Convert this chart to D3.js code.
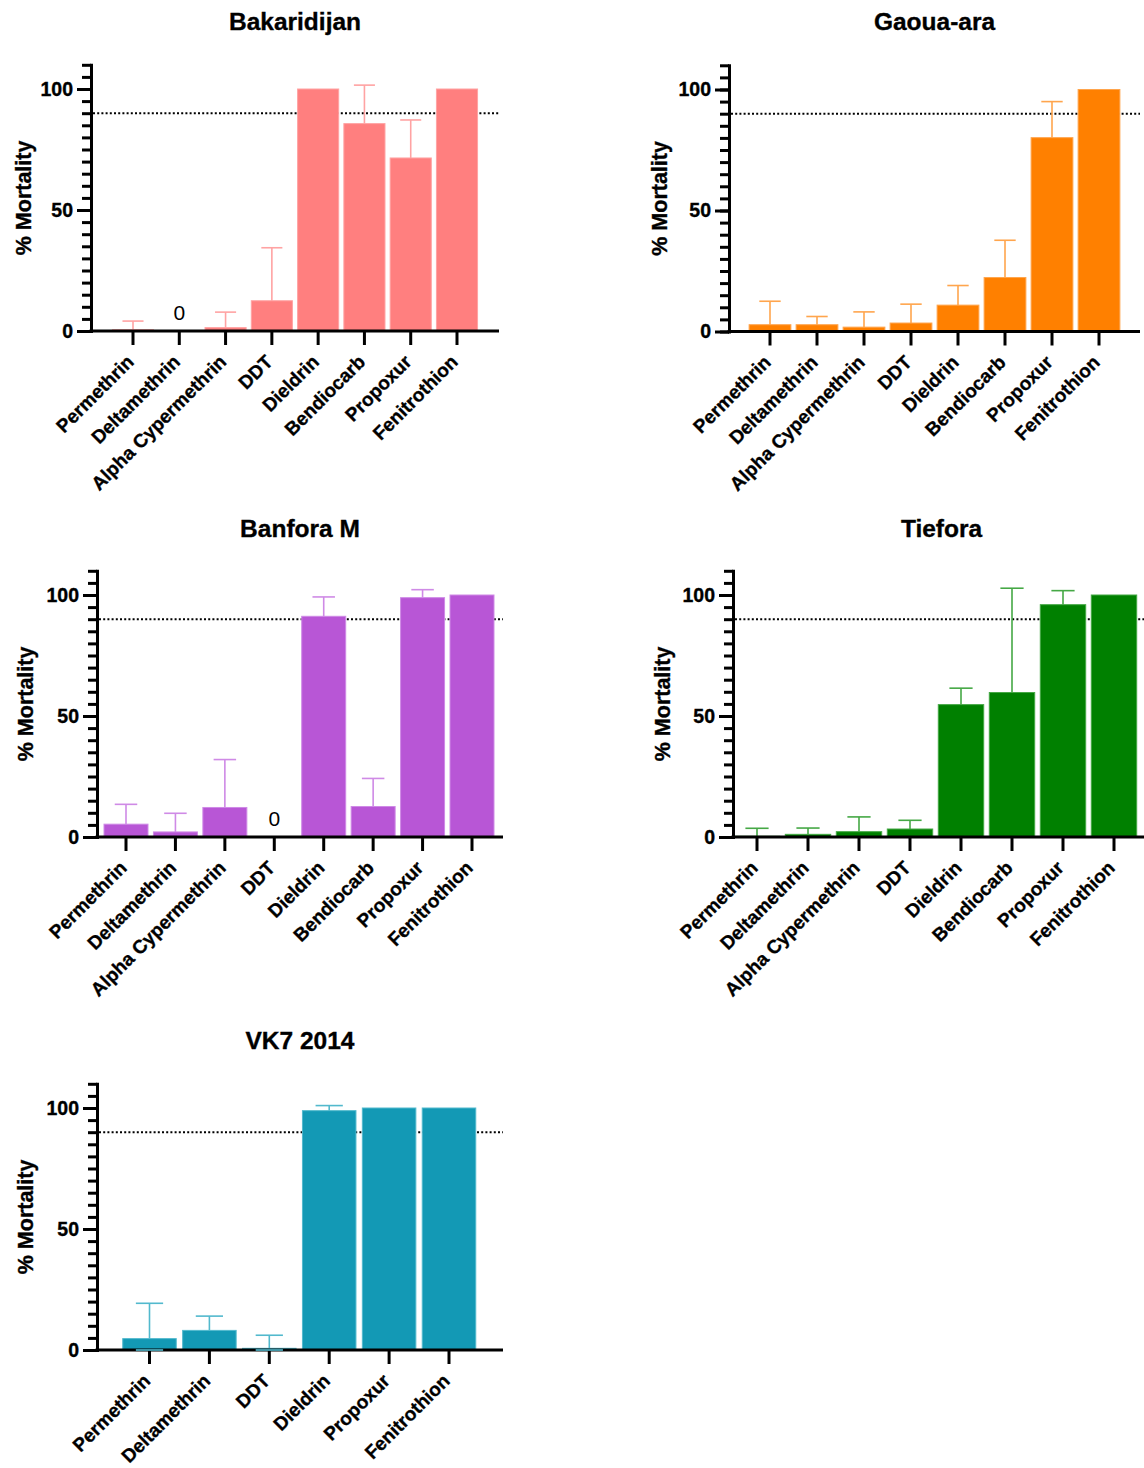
<!DOCTYPE html>
<html>
<head>
<meta charset="utf-8">
<script src="https://cdn.jsdelivr.net/npm/d3@7"></script>
<style>
  body { margin: 0; background: #fff; }
  svg { display: block; }
  text { font-family: "Liberation Sans", Arial, Helvetica, sans-serif; }
  .heavy { stroke: #000; stroke-width: 0.35px; }
</style>
</head>
<body>
<svg id="chart" width="1144" height="1468"></svg>
<script>
// Insecticide names on the category axes
const insecticides8 = ["Permethrin", "Deltamethrin", "Alpha Cypermethrin", "DDT", "Dieldrin", "Bendiocarb", "Propoxur", "Fenitrothion"];
const insecticides6 = ["Permethrin", "Deltamethrin", "DDT", "Dieldrin", "Propoxur", "Fenitrothion"];

// Mean % mortality and upper error (SD) per site
const bakaridijanMean = [0.5, 0, 1.4, 12.5, 100, 85.7, 71.5, 100];
const bakaridijanErr  = [3.6, 0, 6.4, 21.9, 0, 15.9, 15.7, 0];

const gaouaMean = [2.8, 2.8, 1.8, 3.5, 10.9, 22.3, 80.1, 100];
const gaouaErr  = [9.7, 3.4, 6.3, 7.8, 8.1, 15.4, 14.9, 0];

const banforaMean = [5.3, 2.1, 12.2, 0, 91.2, 12.6, 98.9, 100];
const banforaErr  = [8.2, 7.7, 19.8, 0, 8.0, 11.6, 3.3, 0];

const tieforaMean = [0.3, 1.1, 2.2, 3.3, 54.7, 59.7, 96, 100];
const tieforaErr  = [3.3, 2.6, 6.1, 3.6, 6.8, 43.1, 5.8, 0];

const vk7Mean = [4.7, 8.1, 0.7, 98.9, 100, 100];
const vk7Err  = [14.6, 5.9, 5.4, 2.1, 0, 0];

// Axis ticks and WHO resistance threshold
const yMajorTicks = [0, 50, 100];
const yMinorTicks = d3.range(0, 111, 5);
const yMax = 110;
const threshold = 90;

// Panel layout
const PX_PER_UNIT = 2.42;
const panels = [
  { title: "Bakaridijan", cats: insecticides8, mean: bakaridijanMean, err: bakaridijanErr,
    fill: "#ff7f7f", light: "#ffa3a3",
    axisL: 91, axisR: 499, firstC: 133, lastC: 457, y0: 331, titleY: 30, labelX: 23 },
  { title: "Gaoua-ara", cats: insecticides8, mean: gaouaMean, err: gaouaErr,
    fill: "#ff8000", light: "#ffa54d",
    axisL: 729, axisR: 1140, firstC: 770, lastC: 1099, y0: 331.5, titleY: 30, labelX: 659 },
  { title: "Banfora M", cats: insecticides8, mean: banforaMean, err: banforaErr,
    fill: "#b856d6", light: "#cf8ae6",
    axisL: 97, axisR: 503, firstC: 126, lastC: 472, y0: 837, titleY: 537, labelX: 25 },
  { title: "Tiefora", cats: insecticides8, mean: tieforaMean, err: tieforaErr,
    fill: "#008000", light: "#45a845",
    axisL: 733, axisR: 1150, firstC: 757, lastC: 1114, y0: 837, titleY: 537, labelX: 662 },
  { title: "VK7 2014", cats: insecticides6, mean: vk7Mean, err: vk7Err,
    fill: "#1399b5", light: "#52b9cd",
    axisL: 97, axisR: 503, firstC: 149.5, lastC: 449, y0: 1350, titleY: 1049, labelX: 25, lowerCap: true }
];

const svg = d3.select("#chart");

panels.forEach(p => {
  const g = svg.append("g");
  const n = p.cats.length;
  const step = (p.lastC - p.firstC) / (n - 1);

  const x = d3.scaleBand()
    .domain(p.cats)
    .range([p.firstC - step / 2, p.lastC + step / 2])
    .paddingInner(0.09)
    .paddingOuter(0.045);

  const y = d3.scaleLinear()
    .domain([0, yMax])
    .range([p.y0, p.y0 - yMax * PX_PER_UNIT]);

  const rows = p.cats.map((c, i) => ({ cat: c, v: p.mean[i], e: p.err[i] }));

  // threshold line
  g.append("line")
    .attr("x1", p.axisL + 2).attr("x2", p.axisR)
    .attr("y1", y(threshold)).attr("y2", y(threshold))
    .attr("stroke", "#000").attr("stroke-width", 2)
    .attr("stroke-dasharray", "2,2.2");

  // error bars (upper)
  const eb = g.append("g").selectAll("g").data(rows.filter(d => d.e > 0)).join("g");
  eb.append("line")
    .attr("x1", d => x(d.cat) + x.bandwidth() / 2)
    .attr("x2", d => x(d.cat) + x.bandwidth() / 2)
    .attr("y1", d => y(d.v)).attr("y2", d => y(d.v + d.e))
    .attr("stroke", p.light).attr("stroke-width", 1.6);
  eb.append("line")
    .attr("x1", d => x(d.cat) + x.bandwidth() / 4)
    .attr("x2", d => x(d.cat) + x.bandwidth() * 3 / 4)
    .attr("y1", d => y(d.v + d.e)).attr("y2", d => y(d.v + d.e))
    .attr("stroke", p.light).attr("stroke-width", 1.6);

  // bars
  g.append("g").selectAll("rect").data(rows.filter(d => d.v > 0)).join("rect")
    .attr("x", d => x(d.cat) + 0.5)
    .attr("width", x.bandwidth() - 1)
    .attr("y", d => y(d.v))
    .attr("height", d => y(0) - y(d.v))
    .attr("fill", p.fill)
    .attr("stroke", p.light)
    .attr("stroke-width", 1);

  // y axis: minor ticks + spine
  const yMinor = g.append("g")
    .attr("transform", `translate(${p.axisL},0)`)
    .call(d3.axisLeft(y).tickValues(yMinorTicks).tickSize(9).tickSizeOuter(0).tickFormat(""));
  yMinor.select(".domain").attr("stroke-width", 3).attr("stroke-linecap", "square");
  yMinor.selectAll(".tick line").attr("stroke-width", 3);

  // y axis: major ticks with labels
  const yMajor = g.append("g")
    .attr("transform", `translate(${p.axisL},0)`)
    .call(d3.axisLeft(y).tickValues(yMajorTicks).tickSize(14).tickPadding(4));
  yMajor.select(".domain").remove();
  yMajor.selectAll(".tick line").attr("stroke-width", 3);
  yMajor.selectAll(".tick text")
    .attr("class", "heavy")
    .attr("font-size", 19.5).attr("font-weight", "bold").attr("fill", "#000")
    .style("font-family", "'Liberation Sans', Arial, sans-serif");

  // x axis
  const xAxis = g.append("g")
    .attr("transform", `translate(0,${p.y0})`)
    .call(d3.axisBottom(x).tickSize(14).tickSizeOuter(0).tickFormat(""));
  xAxis.select(".domain").remove();
  xAxis.selectAll(".tick line").attr("stroke-width", 3);
  g.append("line")
    .attr("x1", p.axisL - 1.5).attr("x2", p.axisR)
    .attr("y1", p.y0).attr("y2", p.y0)
    .attr("stroke", "#000").attr("stroke-width", 3);

  // rotated category labels
  g.append("g").selectAll("text").data(p.cats).join("text")
    .attr("class", "heavy")
    .attr("transform", d => `translate(${x(d) + x.bandwidth() / 2 + 2},${p.y0 + 32}) rotate(-45)`)
    .attr("text-anchor", "end")
    .attr("font-size", 19).attr("font-weight", "bold").attr("fill", "#000")
    .text(d => d);

  // lower caps clipped at zero
  if (p.lowerCap) {
    g.append("g").selectAll("line").data(rows.filter(d => d.e > 0 && d.v - d.e < 0)).join("line")
      .attr("x1", d => x(d.cat) + x.bandwidth() / 4)
      .attr("x2", d => x(d.cat) + x.bandwidth() * 3 / 4)
      .attr("y1", y(0)).attr("y2", y(0))
      .attr("stroke", p.light).attr("stroke-width", 1.6);
  }

  // value labels for zero bars
  g.append("g").selectAll("text").data(rows.filter(d => d.v === 0)).join("text")
    .attr("x", d => x(d.cat) + x.bandwidth() / 2)
    .attr("y", p.y0 - 11)
    .attr("text-anchor", "middle")
    .attr("font-size", 21).attr("fill", "#000")
    .text(d => d.v);

  // title
  g.append("text")
    .attr("class", "heavy")
    .attr("x", (p.axisL + p.axisR) / 2)
    .attr("y", p.titleY)
    .attr("text-anchor", "middle")
    .attr("font-size", 24.5).attr("font-weight", "bold").attr("fill", "#000")
    .text(p.title);

  // y-axis title
  g.append("text")
    .attr("class", "heavy")
    .attr("transform", `translate(${p.labelX},${(y(0) + y(yMax)) / 2}) rotate(-90)`)
    .attr("text-anchor", "middle")
    .attr("dy", "0.35em")
    .attr("font-size", 21.5).attr("font-weight", "bold").attr("fill", "#000")
    .text("% Mortality");
});
</script>
</body>
</html>
